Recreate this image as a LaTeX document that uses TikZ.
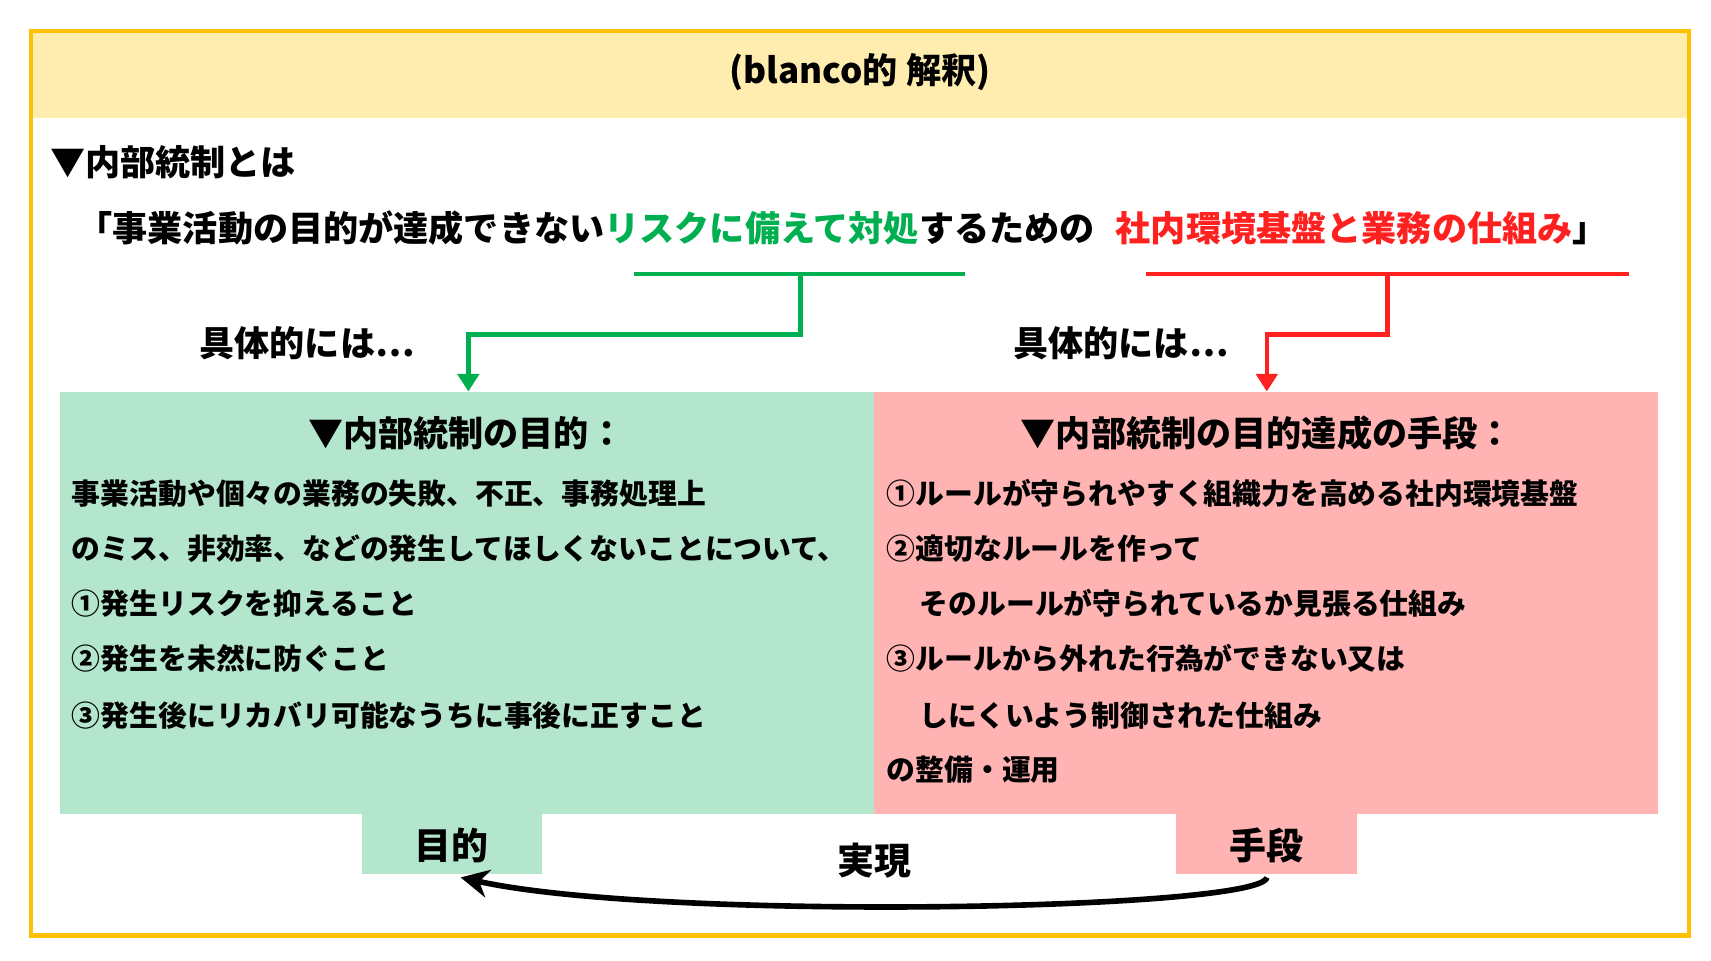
\documentclass[tikz,border=0pt]{standalone}
\usepackage{fontspec}
\setmainfont{Noto Sans CJK JP}
\usetikzlibrary{positioning,arrows.meta}
\definecolor{frameyel}{HTML}{FFC000}
\definecolor{headyel}{HTML}{FFEDB0}
\definecolor{riskgreen}{HTML}{00B050}
\definecolor{basered}{HTML}{FF2020}
\definecolor{boxgreen}{HTML}{B3E6CC}
\definecolor{boxred}{HTML}{FFB3B3}
\tikzset{
  txt/.style={inner sep=0pt, font=\fontsize{10}{12}\selectfont\bfseries},
  line/.style={inner sep=0pt, anchor=west, font=\fontsize{8.2}{10}\selectfont\bfseries},
  big/.style={inner sep=0pt, font=\fontsize{10.5}{12}\selectfont\bfseries},
}
\begin{document}
\begin{tikzpicture}[x=0.01097cm, y=-0.01097cm]
  \useasboundingbox (0,0) rectangle (1560,876);
  % frame and header
  \fill[headyel] (28,28) rectangle (1540,108);
  \draw[frameyel, line width=1.2pt] (28,28) rectangle (1540,853);
  \node[txt] (title) at (784,66) {(blanco的 解釈)};

  \node[txt, anchor=west] (intro) at (45,148) {▼内部統制とは};
  \node[txt, anchor=west] (def) at (70,208) {「事業活動の目的が達成できない\textcolor{riskgreen}{リスクに備えて対処}するための\hspace{0.6em}\textcolor{basered}{社内環境基盤と業務の仕組み}」};

  % boxes
  \fill[boxgreen] (55,357) rectangle (797,742);
  \fill[boxred] (797,357) rectangle (1512,742);
  \fill[boxgreen] (330,742) rectangle (494,797);
  \fill[boxred] (1072,742) rectangle (1237,797);

  % underlines and connectors
  \coordinate (gl) at (578,250);
  \coordinate (gr) at (880,250);
  \coordinate (gm) at (730,250);
  \coordinate (gtip) at (427,357);
  \coordinate (rl) at (1045,250);
  \coordinate (rr) at (1485,250);
  \coordinate (rm) at (1265,250);
  \coordinate (rtip) at (1155,357);
  \draw[riskgreen, line width=1.3pt] (gl) -- (gr);
  \draw[riskgreen, line width=1.3pt, -{Triangle[length=5pt,width=6pt]}] (gm) |- (427,305) -- (gtip);
  \draw[basered, line width=1.3pt] (rl) -- (rr);
  \draw[basered, line width=1.3pt, -{Triangle[length=5pt,width=6pt]}] (rm) |- (1155,305) -- (rtip);

  \node[txt] (concl) at (280,313) {具体的には…};
  \node[txt] (concr) at (1022,313) {具体的には…};

  % left box
  \node[txt] (goalhead) at (425,395) {▼内部統制の目的：};
  \node[line] (g1) at (65,450) {事業活動や個々の業務の失敗、不正、事務処理上};
  \node[line] (g2) at (65,500) {のミス、非効率、などの発生してほしくないことについて、};
  \node[line] (g3) at (65,550) {①発生リスクを抑えること};
  \node[line] (g4) at (65,600) {②発生を未然に防ぐこと};
  \node[line] (g5) at (65,652) {③発生後にリカバリ可能なうちに事後に正すこと};

  % right box
  \node[txt] (meanshead) at (1155,395) {▼内部統制の目的達成の手段：};
  \node[line] (m1) at (808,450) {①ルールが守られやすく組織力を高める社内環境基盤};
  \node[line] (m2) at (808,500) {②適切なルールを作って};
  \node[line] (m3) at (838,550) {そのルールが守られているか見張る仕組み};
  \node[line] (m4) at (808,600) {③ルールから外れた行為ができない又は};
  \node[line] (m5) at (838,652) {しにくいよう制御された仕組み};
  \node[line] (m6) at (808,702) {の整備・運用};

  % tabs and arrow
  \node[big] (goal) at (412,771) {目的};
  \node[big] (means) at (1155,771) {手段};
  \node[big] (real) at (797,785) {実現};
  \draw[line width=1.6pt, -{Stealth[length=8pt,width=8pt]}] (1155,800) .. controls (1150,830) and (600,840) .. (420,800);
\end{tikzpicture}
\end{document}
